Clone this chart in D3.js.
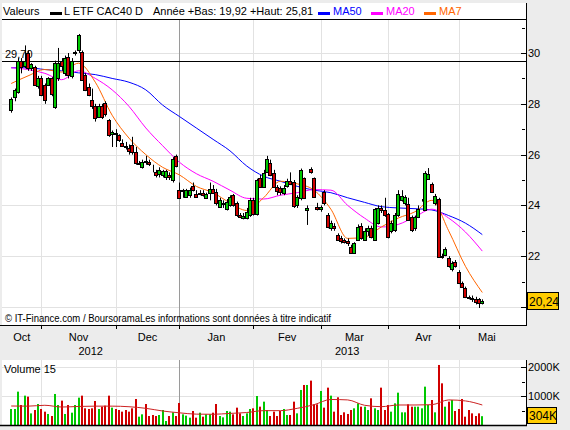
<!DOCTYPE html>
<html>
<head>
<meta charset="utf-8">
<script src="https://cdn.jsdelivr.net/npm/d3@7"></script>
<style>
  body { margin: 0; background: #ececec; }
  svg { display: block; }
  text { font-family: "Liberation Sans", Arial, sans-serif; }
</style>
</head>
<body>
<div id="root"></div>
<script>
// trading days (Euronext), 19 Oct 2012 -> 13 May 2013
var holidays = ["2012-12-25", "2012-12-26", "2013-01-01", "2013-03-29", "2013-04-01", "2013-05-01"];
var fmt = d3.timeFormat("%Y-%m-%d");
var dates = [];
for (var d = new Date(2012, 9, 19); d <= new Date(2013, 4, 13); d.setDate(d.getDate() + 1)) {
  if (d.getDay() % 6 !== 0 && holidays.indexOf(fmt(d)) < 0) dates.push(fmt(d));
}

var open = [27.76,28.28,28.48,29.7,29.5,30.0,29.4,29.46,28.7,29.0,28.74,28.74,29.0,27.87,29.0,29.7,29.2,29.84,29.1,30.0,
  30.1,30.05,29.13,28.67,28.15,27.9,27.5,27.9,28.03,27.36,26.8,26.85,26.77,26.46,26.35,26.25,26.38,26.1,25.64,25.5,
  25.75,25.72,25.45,25.33,25.25,25.2,25.1,25.2,25.0,25.94,24.6,24.55,24.34,24.4,24.76,24.45,24.45,24.5,24.3,24.5,
  24.65,24.54,23.94,24.05,23.85,24.0,24.4,24.1,23.62,23.5,23.5,23.62,24.2,23.66,25.07,24.73,25.33,25.67,25.29,24.73,
  24.68,24.5,24.75,24.98,24.93,24.0,24.3,25.07,23.8,25.43,25.07,23.95,23.85,24.54,23.62,23.1,23.2,22.83,22.7,22.65,
  22.6,22.37,22.14,22.64,23.19,22.64,23.0,23.1,22.64,23.3,23.9,23.82,23.66,23.0,23.03,23.62,24.21,24.1,24.05,23.54,
  23.1,23.54,24.2,23.82,25.04,24.84,24.1,24.25,22.0,22.05,21.93,21.48,21.78,21.39,20.95,20.75,20.4,20.35,20.31,20.31,20.14];
var high = [28.25,28.6,29.8,29.8,30.3,30.1,29.6,29.5,29.1,29.1,28.8,29.05,29.05,29.7,30.2,29.8,29.9,30.0,29.8,30.1,
  30.75,30.1,29.2,28.8,28.6,28.0,28.0,28.0,28.1,27.4,26.95,27.0,26.8,26.6,26.5,26.4,26.7,26.3,25.75,25.8,
  25.95,25.8,25.6,25.4,25.5,25.4,25.4,25.3,25.9,26.0,24.9,24.65,24.65,24.7,24.9,24.6,24.6,24.6,24.5,24.9,
  24.8,24.65,24.3,24.2,24.25,24.4,24.45,24.15,23.7,23.7,23.9,24.3,24.3,25.05,25.2,25.4,25.95,25.8,25.4,24.8,
  24.75,24.8,25.05,25.3,25.0,24.4,25.45,25.1,24.0,25.5,25.1,24.1,24.0,24.6,23.7,23.4,23.3,22.9,22.8,22.7,
  22.7,22.45,22.55,23.25,23.3,23.1,23.2,23.2,23.9,24.0,24.0,24.3,23.7,23.4,23.7,24.6,24.6,24.4,24.3,23.6,
  23.6,24.0,24.25,25.35,25.47,24.9,24.45,24.3,22.1,22.35,22.0,21.8,21.85,21.45,21.0,20.8,20.45,20.45,20.4,20.35,20.3];
var low = [27.65,28.1,28.4,29.2,29.4,29.3,29.3,28.7,28.6,28.3,28.0,28.7,28.3,27.8,28.9,29.3,29.1,29.0,29.0,29.9,
  30.0,28.9,28.5,28.3,27.8,27.3,27.45,27.4,27.5,26.7,26.3,26.3,26.5,26.3,26.2,26.0,26.0,25.6,25.6,25.45,
  25.6,25.55,25.3,25.1,25.1,25.1,25.0,25.0,24.9,25.5,24.25,24.3,24.3,24.3,24.55,24.3,24.4,24.35,24.25,24.2,
  24.5,24.0,23.9,23.9,23.8,23.95,23.95,23.55,23.5,23.45,23.45,23.55,23.6,23.6,24.7,24.7,25.3,25.15,24.7,24.4,
  24.4,24.4,24.7,24.8,23.9,23.9,24.2,24.25,23.23,25.25,24.3,23.8,23.75,24.0,23.1,23.0,23.0,22.6,22.5,22.5,
  22.4,22.1,22.1,22.6,22.65,22.6,22.8,22.7,22.6,23.25,23.7,23.55,22.7,22.9,22.95,23.55,24.15,24.0,23.4,22.95,
  23.0,23.5,24.15,23.8,25.0,24.5,24.0,21.95,21.9,22.0,21.55,21.4,21.55,20.9,20.75,20.35,20.3,20.2,20.1,19.96,20.1];
var close = [28.19,28.54,29.7,29.45,29.7,29.4,29.55,28.74,29.0,28.35,28.15,29.0,28.4,29.62,29.6,29.5,29.8,29.13,29.7,30.04,
  30.7,28.94,28.54,28.35,27.9,27.45,27.9,27.5,27.6,26.77,26.9,26.8,26.57,26.35,26.3,26.15,26.1,25.68,25.68,25.72,
  25.7,25.62,25.42,25.2,25.4,25.35,25.37,25.1,25.82,25.55,24.3,24.6,24.6,24.6,24.6,24.35,24.5,24.4,24.45,24.65,
  24.5,24.1,24.2,24.1,24.15,24.33,24.0,23.62,23.56,23.6,23.75,24.2,23.66,25.0,24.73,25.29,25.83,25.2,24.73,24.55,
  24.53,24.7,24.98,24.85,23.98,24.33,25.4,24.3,23.9,25.3,24.34,23.85,23.95,24.08,23.16,23.32,23.1,22.64,22.6,22.55,
  22.5,22.14,22.5,23.15,22.7,23.0,23.1,22.76,23.86,23.9,23.8,23.62,22.76,23.3,23.62,24.45,24.37,24.35,23.43,23.03,
  23.54,23.86,24.21,25.28,25.24,24.54,24.37,21.98,21.95,22.28,21.6,21.74,21.6,20.93,20.79,20.39,20.35,20.3,20.2,20.16,20.24];
// volume, thousands
var volume = [552,552,1150,690,1012,977,400,517,724,552,460,380,310,1070,690,840,380,690,425,690,
  943,1012,575,552,575,828,552,632,667,1012,598,552,517,460,517,460,575,897,287,368,
  724,310,345,310,345,517,138,310,437,310,759,368,322,253,483,253,425,287,368,368,
  425,724,310,264,483,460,368,598,402,310,402,552,575,1000,632,805,517,310,460,310,
  483,552,345,345,805,402,1208,1380,1380,1530,713,713,1173,598,1288,1012,460,955,345,437,
  380,517,575,747,632,632,517,920,575,517,1288,517,690,460,747,1115,437,437,713,632,
  632,632,575,1322,690,862,437,2070,1437,632,805,862,483,552,897,287,517,402,310,402,304];

var maIdx = [0,5,10,15,20,25,30,35,40,45,50,55,60,65,70,75,80,85,90,95,100,105,110,115,120,125,130,135,140];
var ma50 = [29.42,29.42,29.35,29.3,29.22,29.15,29.0,28.85,28.55,27.95,27.5,27.05,26.6,26.15,25.55,25.15,24.95,24.75,24.6,24.5,24.3,24.12,23.95,23.9,23.87,23.82,23.6,23.3,22.85];
var ma20 = [29.42,29.35,29.2,28.95,29.3,29.0,28.55,27.9,27.05,26.35,25.7,25.25,24.95,24.6,24.28,24.25,24.4,24.5,24.62,24.6,24.0,23.5,23.15,23.25,23.55,23.85,23.5,22.95,22.2];
var ma7 = [28.8,29.1,29.35,29.25,29.6,28.85,27.55,26.65,26.0,25.5,25.2,24.75,24.5,24.1,23.8,24.3,24.95,24.85,24.6,23.85,22.7,22.75,23.15,23.5,23.75,24.2,23.0,21.6,20.57];
var volMa = [655,650,680,620,640,650,650,630,575,483,420,375,370,400,430,495,495,575,700,880,865,680,632,690,690,700,865,830,690];

var yTicks = [20, 22, 24, 26, 28, 30];
var yMinor = [21, 23, 25, 27, 29, 31];
var vTicks = [1000, 2000];
var vMinor = [500, 1500];
var refLevel = 29.70;
var lastClose = 20.24, lastVolume = 304;

var W = 570, H = 430;
var green = "#00c800", red = "#d00000";
var frFmt = function (v) { return d3.format(".2f")(v).replace(".", ","); };

var svg = d3.select("#root").append("svg").attr("width", W).attr("height", H);
svg.append("rect").attr("width", W).attr("height", H).attr("fill", "#ececec");

var x = d3.scalePoint().domain(dates).range([11.2, 482.3]);
var y = d3.scaleLinear().domain([19.29, 31.34]).range([325, 19]);
var yv = d3.scaleLinear().domain([0, 2000]).range([425, 367]);
var plotL = 2, plotR = 526, labelEnd = 515;

// month boundaries = first session of each month
var monthStarts = dates.filter(function (d, i) { return i > 0 && d.slice(0, 7) !== dates[i - 1].slice(0, 7); });
var gx = function (d) { return Math.round(x(d)) + 0.5; };

// ---------- price panel ----------
svg.append("rect").attr("x", plotL).attr("y", 3).attr("width", plotR - plotL).attr("height", 322).attr("fill", "#fff");

var price = svg.append("g");
price.selectAll(".hg").data(yTicks).enter().append("line")
  .attr("x1", plotL).attr("x2", plotR).attr("y1", function (v) { return Math.round(y(v)) + 0.5; })
  .attr("y2", function (v) { return Math.round(y(v)) + 0.5; })
  .attr("stroke", "#e2e2e2");
price.selectAll(".vg").data(monthStarts).enter().append("line")
  .attr("x1", gx).attr("x2", gx).attr("y1", 19).attr("y2", 325)
  .attr("stroke", function (d) { return d.slice(5, 7) === "01" ? "#9a9a9a" : "#e2e2e2"; });

// reference line
price.append("line").attr("x1", plotL).attr("x2", plotR)
  .attr("y1", Math.round(y(refLevel)) + 0.5).attr("y2", Math.round(y(refLevel)) + 0.5)
  .attr("stroke", "#000");
price.append("text").attr("x", 5).attr("y", y(refLevel) - 3).attr("font-size", 11).text(frFmt(refLevel));

// footnote
price.append("text").attr("x", 5).attr("y", 322).attr("font-size", 10)
  .attr("textLength", 326).attr("lengthAdjust", "spacingAndGlyphs")
  .text("\u00a9 IT-Finance.com / BoursoramaLes informations sont donn\u00e9es \u00e0 titre indicatif");

// moving averages
function maLine(vals, color) {
  price.append("path")
    .datum(maIdx.map(function (k, j) { return [x(dates[k]), y(vals[j])]; }))
    .attr("fill", "none").attr("stroke", color).attr("stroke-width", 1)
    .attr("d", d3.line().curve(d3.curveMonotoneX));
}
maLine(ma50, "#0000ff");
maLine(ma20, "#ff00ff");
maLine(ma7, "#ff6600");

// candles
var candles = price.selectAll(".c").data(dates).enter().append("g");
candles.append("line")
  .attr("x1", gx).attr("x2", gx)
  .attr("y1", function (d, i) { return y(high[i]); })
  .attr("y2", function (d, i) { return y(low[i]); })
  .attr("stroke", "#000");
candles.append("rect")
  .attr("x", function (d) { return Math.round(x(d)) - 1.5; })
  .attr("width", 3)
  .attr("y", function (d, i) { return Math.round(y(Math.max(open[i], close[i]))) + 0.5; })
  .attr("height", function (d, i) { return Math.max(0, Math.round(y(Math.min(open[i], close[i]))) - Math.round(y(Math.max(open[i], close[i])))); })
  .attr("fill", function (d, i) { return close[i] >= open[i] ? green : red; })
  .attr("stroke", "#000");

// header
price.append("line").attr("x1", plotL).attr("x2", plotR).attr("y1", 19.5).attr("y2", 19.5).attr("stroke", "#000");
var head = price.append("g").attr("font-size", 11);
head.append("text").attr("x", 3).attr("y", 15).text("Valeurs");
var legend = [
  { sw: 50, tx: 64, label: "L ETF CAC40 D", color: "#000", text: "#000" },
  { sw: 318, tx: 333, label: "MA50", color: "#0000ff", text: "#0000ff" },
  { sw: 371, tx: 386, label: "MA20", color: "#ff00ff", text: "#ff00ff" },
  { sw: 424, tx: 439, label: "MA7", color: "#ff6600", text: "#ff6600" }
];
legend.forEach(function (l) {
  head.append("rect").attr("x", l.sw).attr("y", 12).attr("width", 12).attr("height", 3).attr("fill", l.color);
  head.append("text").attr("x", l.tx).attr("y", 15).attr("fill", l.text).text(l.label);
});
head.append("text").attr("x", 153).attr("y", 15).text("Ann\u00e9e +Bas: 19,92 +Haut: 25,81");

// right axis
price.append("line").attr("x1", plotR + 0.5).attr("x2", plotR + 0.5).attr("y1", 3).attr("y2", 325).attr("stroke", "#000");
price.selectAll(".mt").data(yTicks).enter().append("line")
  .attr("x1", plotR - 5).attr("x2", plotR)
  .attr("y1", function (v) { return Math.round(y(v)) + 0.5; }).attr("y2", function (v) { return Math.round(y(v)) + 0.5; })
  .attr("stroke", "#000");
price.selectAll(".nt").data(yMinor).enter().append("line")
  .attr("x1", plotR - 4).attr("x2", plotR - 1)
  .attr("y1", function (v) { return Math.round(y(v)) + 0.5; }).attr("y2", function (v) { return Math.round(y(v)) + 0.5; })
  .attr("stroke", "#000");
// the last-price flag hides the tick label it sits on
price.selectAll(".yl").data(yTicks.filter(function (v) { return Math.abs(y(v) - y(lastClose)) > 12; })).enter().append("text")
  .attr("x", 528).attr("y", function (v) { return y(v) + 4; }).attr("font-size", 11).text(function (v) { return v; });

// last price box
price.append("rect").attr("x", 527.5).attr("y", Math.round(y(lastClose)) - 8.5).attr("width", 31).attr("height", 17)
  .attr("fill", "#ffcc00").attr("stroke", "#000");
price.append("text").attr("x", 529).attr("y", y(lastClose) + 5).attr("font-size", 12).text(frFmt(lastClose));

// x axis
price.append("line").attr("x1", 0).attr("x2", plotR + 1).attr("y1", 325.5).attr("y2", 325.5).attr("stroke", "#000");
price.selectAll(".xt").data(monthStarts).enter().append("line")
  .attr("x1", gx).attr("x2", gx).attr("y1", 325).attr("y2", 329).attr("stroke", "#000");

var monthNames = { "01": "Jan", "02": "Fev", "03": "Mar", "04": "Avr", "05": "Mai", "10": "Oct", "11": "Nov", "12": "Dec" };
var months = d3.groups(dates, function (d) { return d.slice(0, 7); });
var span = function (groups, i) {
  var s = i === 0 ? plotL : x(groups[i][1][0]);
  var e = i === groups.length - 1 ? labelEnd : x(groups[i + 1][1][0]);
  return (s + e) / 2;
};
price.selectAll(".ml").data(months).enter().append("text")
  .attr("x", function (m, i) { return span(months, i); })
  .attr("y", 341).attr("font-size", 11).attr("text-anchor", "middle")
  .text(function (m) { return monthNames[m[0].slice(5)]; });
var years = d3.groups(dates, function (d) { return d.slice(0, 4); });
price.selectAll(".yr").data(years).enter().append("text")
  .attr("x", function (g, i) { return span(years, i); })
  .attr("y", 355).attr("font-size", 11).attr("text-anchor", "middle").text(function (g) { return g[0]; });

// ---------- volume panel ----------
var vol = svg.append("g");
vol.append("rect").attr("x", plotL).attr("y", 360).attr("width", plotR - plotL).attr("height", 65).attr("fill", "#fff");
vol.selectAll(".hg").data(vTicks).enter().append("line")
  .attr("x1", plotL).attr("x2", plotR)
  .attr("y1", function (v) { return Math.round(yv(v)) + 0.5; }).attr("y2", function (v) { return Math.round(yv(v)) + 0.5; })
  .attr("stroke", "#e2e2e2");
vol.selectAll(".vg").data(monthStarts).enter().append("line")
  .attr("x1", gx).attr("x2", gx).attr("y1", 360).attr("y2", 425)
  .attr("stroke", function (d) { return d.slice(5, 7) === "01" ? "#9a9a9a" : "#e2e2e2"; });
vol.append("text").attr("x", 4).attr("y", 373).attr("font-size", 11).text("Volume 15");

vol.selectAll(".vb").data(dates).enter().append("rect")
  .attr("x", function (d) { return Math.round(x(d)) - 1; })
  .attr("width", 2)
  .attr("y", function (d, i) { return yv(volume[i]); })
  .attr("height", function (d, i) { return 425 - yv(volume[i]); })
  .attr("fill", function (d, i) { return close[i] >= open[i] ? green : red; });

vol.append("path")
  .datum(maIdx.map(function (k, j) { return [x(dates[k]), yv(volMa[j])]; }))
  .attr("fill", "none").attr("stroke", "#cc2222").attr("stroke-width", 1)
  .attr("d", d3.line().curve(d3.curveMonotoneX));

vol.append("line").attr("x1", 0).attr("x2", plotR + 1).attr("y1", 425.5).attr("y2", 425.5).attr("stroke", "#000").attr("stroke-width", 1.5);
vol.append("line").attr("x1", plotR + 0.5).attr("x2", plotR + 0.5).attr("y1", 360).attr("y2", 426).attr("stroke", "#000");
vol.selectAll(".mt").data(vTicks).enter().append("line")
  .attr("x1", plotR - 5).attr("x2", plotR)
  .attr("y1", function (v) { return Math.round(yv(v)) + 0.5; }).attr("y2", function (v) { return Math.round(yv(v)) + 0.5; })
  .attr("stroke", "#000");
vol.selectAll(".nt").data(vMinor).enter().append("line")
  .attr("x1", plotR - 4).attr("x2", plotR - 1)
  .attr("y1", function (v) { return Math.round(yv(v)) + 0.5; }).attr("y2", function (v) { return Math.round(yv(v)) + 0.5; })
  .attr("stroke", "#000");
vol.selectAll(".vl").data(vTicks).enter().append("text")
  .attr("x", 528).attr("y", function (v) { return yv(v) + 4; }).attr("font-size", 11).text(function (v) { return v + "K"; });
vol.append("rect").attr("x", 527.5).attr("y", 407.5).attr("width", 29).attr("height", 16)
  .attr("fill", "#ffcc00").attr("stroke", "#000");
vol.append("text").attr("x", 529).attr("y", 420).attr("font-size", 12).text(lastVolume + "K");
</script>
</body>
</html>
